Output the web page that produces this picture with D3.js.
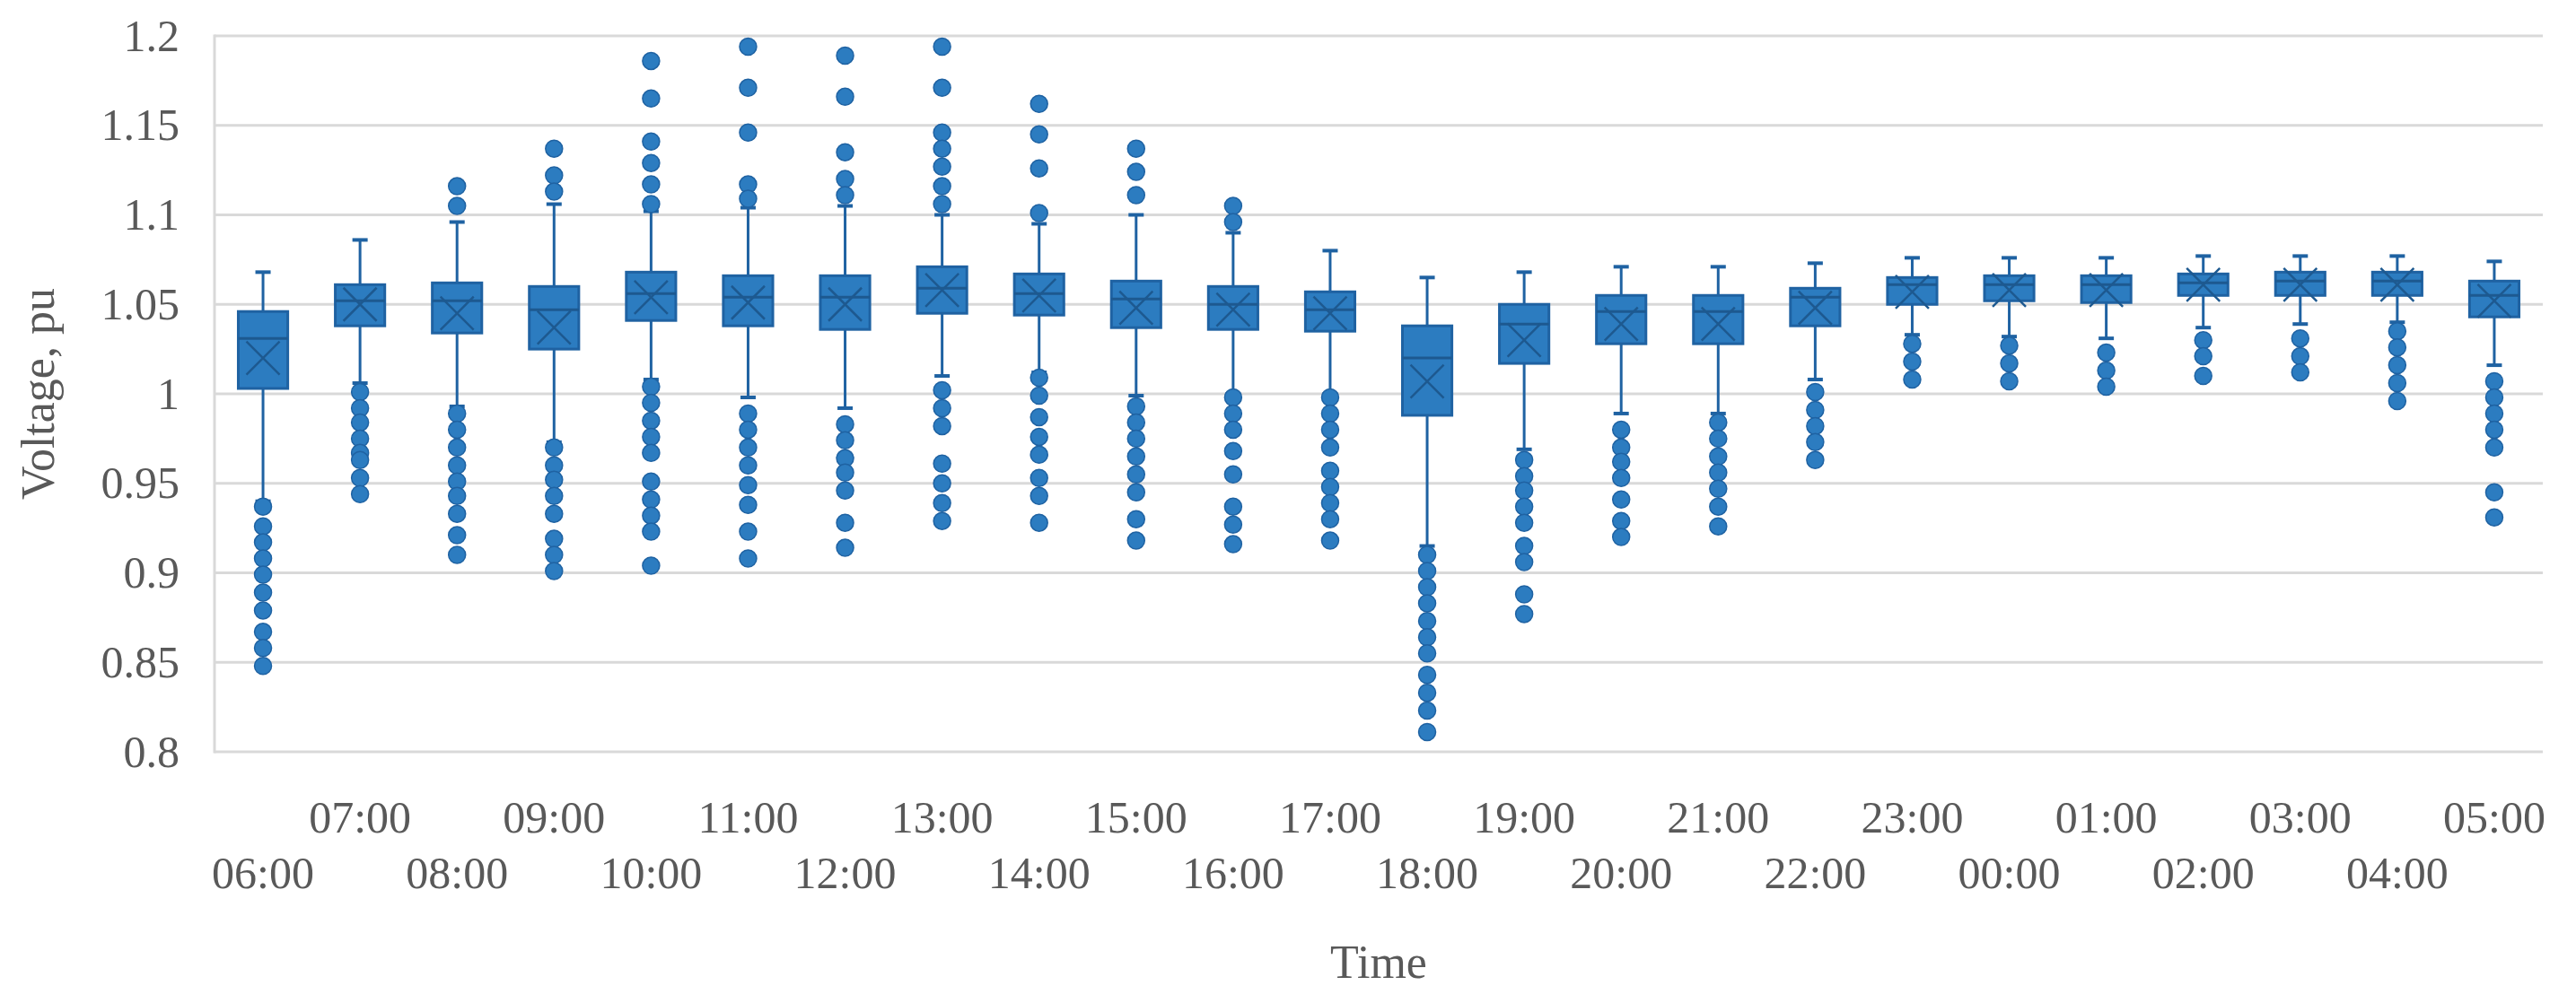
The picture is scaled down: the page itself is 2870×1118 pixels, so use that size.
<!DOCTYPE html>
<html>
<head>
<meta charset="utf-8">
<script src="https://cdn.jsdelivr.net/npm/d3@7/dist/d3.min.js"></script>
<style>
  html, body { margin: 0; padding: 0; background: #ffffff; }
  svg { display: block; }
</style>
</head>
<body>
<svg id="chart" width="2870" height="1118"></svg>
<script>
const categories = ["06:00","07:00","08:00","09:00","10:00","11:00","12:00","13:00","14:00","15:00","16:00","17:00",
                    "18:00","19:00","20:00","21:00","22:00","23:00","00:00","01:00","02:00","03:00","04:00","05:00"];
const whiskerHigh = [1.068,1.086,1.096,1.106,1.102,1.104,1.105,1.100,1.095,1.100,1.090,1.080,
                     1.065,1.068,1.071,1.071,1.073,1.076,1.076,1.076,1.077,1.077,1.077,1.074];
const q3Values    = [1.046,1.061,1.062,1.060,1.068,1.066,1.066,1.071,1.067,1.063,1.060,1.057,
                     1.038,1.050,1.055,1.055,1.059,1.065,1.066,1.066,1.067,1.068,1.068,1.063];
const medianValues= [1.031,1.052,1.052,1.047,1.056,1.054,1.054,1.059,1.056,1.053,1.050,1.047,
                     1.020,1.039,1.046,1.046,1.054,1.061,1.061,1.061,1.062,1.063,1.063,1.055];
const meanValues  = [1.020,1.050,1.045,1.037,1.054,1.051,1.050,1.058,1.055,1.048,1.047,1.045,
                     1.007,1.030,1.039,1.039,1.048,1.057,1.058,1.058,1.061,1.061,1.061,1.052];
const q1Values    = [1.003,1.038,1.034,1.025,1.041,1.038,1.036,1.045,1.044,1.037,1.036,1.035,
                     0.988,1.017,1.028,1.028,1.038,1.050,1.052,1.051,1.055,1.055,1.055,1.043];
const whiskerLow  = [0.940,1.006,0.993,0.973,1.008,0.998,0.992,1.010,1.012,0.999,1.000,1.000,
                     0.915,0.969,0.989,0.989,1.008,1.033,1.032,1.031,1.037,1.039,1.040,1.016];
const outliers = [
  [0.937,0.926,0.917,0.908,0.899,0.889,0.879,0.867,0.858,0.848],
  [1.001,0.992,0.984,0.975,0.967,0.963,0.953,0.944],
  [1.116,1.105,0.989,0.980,0.970,0.960,0.951,0.943,0.933,0.921,0.910],
  [1.137,1.122,1.113,0.970,0.960,0.952,0.943,0.933,0.919,0.910,0.901],
  [1.186,1.165,1.141,1.129,1.117,1.106,1.004,0.995,0.985,0.976,0.967,0.951,0.941,0.932,0.923,0.904],
  [1.194,1.171,1.146,1.117,1.109,0.989,0.980,0.970,0.960,0.949,0.938,0.923,0.908],
  [1.189,1.166,1.135,1.120,1.111,0.983,0.974,0.964,0.956,0.946,0.928,0.914],
  [1.194,1.171,1.146,1.137,1.127,1.116,1.106,1.002,0.992,0.982,0.961,0.950,0.939,0.929],
  [1.162,1.145,1.126,1.101,1.009,0.999,0.987,0.976,0.966,0.953,0.943,0.928],
  [1.137,1.124,1.111,0.993,0.984,0.975,0.965,0.955,0.945,0.930,0.918],
  [1.105,1.096,0.998,0.989,0.980,0.968,0.955,0.937,0.927,0.916],
  [0.998,0.989,0.980,0.970,0.957,0.948,0.939,0.930,0.918],
  [0.910,0.901,0.892,0.883,0.873,0.864,0.855,0.843,0.833,0.823,0.811],
  [0.963,0.954,0.946,0.937,0.928,0.915,0.906,0.888,0.877],
  [0.980,0.970,0.962,0.953,0.941,0.929,0.920],
  [0.984,0.975,0.965,0.956,0.947,0.937,0.926],
  [1.001,0.991,0.982,0.973,0.963],
  [1.028,1.018,1.008],
  [1.027,1.017,1.007],
  [1.023,1.013,1.004],
  [1.030,1.021,1.010],
  [1.031,1.021,1.012],
  [1.035,1.026,1.016,1.006,0.996],
  [1.007,0.998,0.989,0.980,0.970,0.945,0.931]
];
const yTickValues = [0.8,0.85,0.9,0.95,1,1.05,1.1,1.15,1.2];
const yTickLabels = ["0.8","0.85","0.9","0.95","1","1.05","1.1","1.15","1.2"];
const xTitle = "Time";
const yTitle = "Voltage, pu";

const fillColor = "#2c7cc0";
const strokeColor = "#1f62a2";
const darkLine = "#1d5990";
const gridColor = "#d9d9d9";
const textColor = "#595959";
const fontFamily = "'Liberation Serif', 'Times New Roman', serif";

const svg = d3.select("#chart");
const plotLeft = 239, plotRight = 2833, plotTop = 40, plotBottom = 838;

const x = d3.scaleBand().domain(categories).range([plotLeft, plotRight]).paddingInner(0).paddingOuter(0);
const y = d3.scaleLinear().domain([0.8, 1.2]).range([plotBottom, plotTop]);

const boxW = x.bandwidth() * 0.51;
const capW = 17;
const xMark = 18.5;
const dotR = 9.5;

// gridlines
svg.append("g").selectAll("line").data(yTickValues).join("line")
  .attr("x1", plotLeft).attr("x2", plotRight)
  .attr("y1", d => y(d)).attr("y2", d => y(d))
  .attr("stroke", gridColor).attr("stroke-width", 3);
svg.append("line").attr("x1", plotLeft).attr("x2", plotLeft).attr("y1", y(1.2) - 1.5).attr("y2", y(0.8) + 1.5)
  .attr("stroke", gridColor).attr("stroke-width", 3);

// y axis
const yAxis = d3.axisLeft(y).tickValues(yTickValues)
  .tickFormat((d, i) => yTickLabels[i]).tickSize(0).tickPadding(39);
const gy = svg.append("g").attr("transform", `translate(${plotLeft},0)`).call(yAxis);
gy.select(".domain").remove();
gy.selectAll("text").attr("font-family", fontFamily).attr("font-size", 50).attr("fill", textColor);

// x axis (staggered labels)
const xAxis = d3.axisBottom(x).tickSize(0);
const gx = svg.append("g").attr("transform", `translate(0,${plotBottom})`).call(xAxis);
gx.select(".domain").remove();
gx.selectAll("text")
  .attr("font-family", fontFamily).attr("font-size", 50).attr("fill", textColor)
  .attr("dy", 0)
  .attr("y", (d, i) => i % 2 === 1 ? 90 : 152);

// titles
svg.append("text").attr("x", (plotLeft + plotRight) / 2).attr("y", 1090)
  .attr("text-anchor", "middle").attr("font-family", fontFamily).attr("font-size", 52)
  .attr("fill", textColor).text(xTitle);
svg.append("text").attr("transform", `translate(60,${(plotTop + plotBottom) / 2}) rotate(-90)`)
  .attr("text-anchor", "middle").attr("font-family", fontFamily).attr("font-size", 52)
  .attr("fill", textColor).text(yTitle);

const data = categories.map((c, i) => ({
  c, hi: whiskerHigh[i], q3: q3Values[i], med: medianValues[i], mean: meanValues[i],
  q1: q1Values[i], lo: whiskerLow[i], out: outliers[i]
}));
const cx = d => x(d.c) + x.bandwidth() / 2;

const g = svg.append("g");
const boxes = g.selectAll("g.box").data(data).join("g").attr("class", "box");

// whiskers
boxes.append("line").attr("x1", cx).attr("x2", cx)
  .attr("y1", d => y(d.hi)).attr("y2", d => y(d.q3))
  .attr("stroke", strokeColor).attr("stroke-width", 3);
boxes.append("line").attr("x1", cx).attr("x2", cx)
  .attr("y1", d => y(d.q1)).attr("y2", d => y(d.lo))
  .attr("stroke", strokeColor).attr("stroke-width", 3);
// caps
boxes.append("line").attr("x1", d => cx(d) - capW / 2).attr("x2", d => cx(d) + capW / 2)
  .attr("y1", d => y(d.hi)).attr("y2", d => y(d.hi))
  .attr("stroke", strokeColor).attr("stroke-width", 4);
boxes.append("line").attr("x1", d => cx(d) - capW / 2).attr("x2", d => cx(d) + capW / 2)
  .attr("y1", d => y(d.lo)).attr("y2", d => y(d.lo))
  .attr("stroke", strokeColor).attr("stroke-width", 4);
// box
boxes.append("rect")
  .attr("x", d => cx(d) - boxW / 2).attr("width", boxW)
  .attr("y", d => y(d.q3)).attr("height", d => y(d.q1) - y(d.q3))
  .attr("fill", fillColor).attr("stroke", strokeColor).attr("stroke-width", 3);
// median
boxes.append("line").attr("x1", d => cx(d) - boxW / 2).attr("x2", d => cx(d) + boxW / 2)
  .attr("y1", d => y(d.med)).attr("y2", d => y(d.med))
  .attr("stroke", darkLine).attr("stroke-width", 3);
// mean X
boxes.append("path")
  .attr("d", d => {
    const px = cx(d), py = y(d.mean);
    return `M${px - xMark},${py - xMark}L${px + xMark},${py + xMark}M${px - xMark},${py + xMark}L${px + xMark},${py - xMark}`;
  })
  .attr("stroke", darkLine).attr("stroke-width", 2.5).attr("fill", "none");
// outliers
boxes.each(function(d) {
  d3.select(this).selectAll("circle").data(d.out).join("circle")
    .attr("cx", cx(d)).attr("cy", v => y(v)).attr("r", dotR)
    .attr("fill", fillColor).attr("stroke", strokeColor).attr("stroke-width", 1.5);
});
</script>
</body>
</html>
